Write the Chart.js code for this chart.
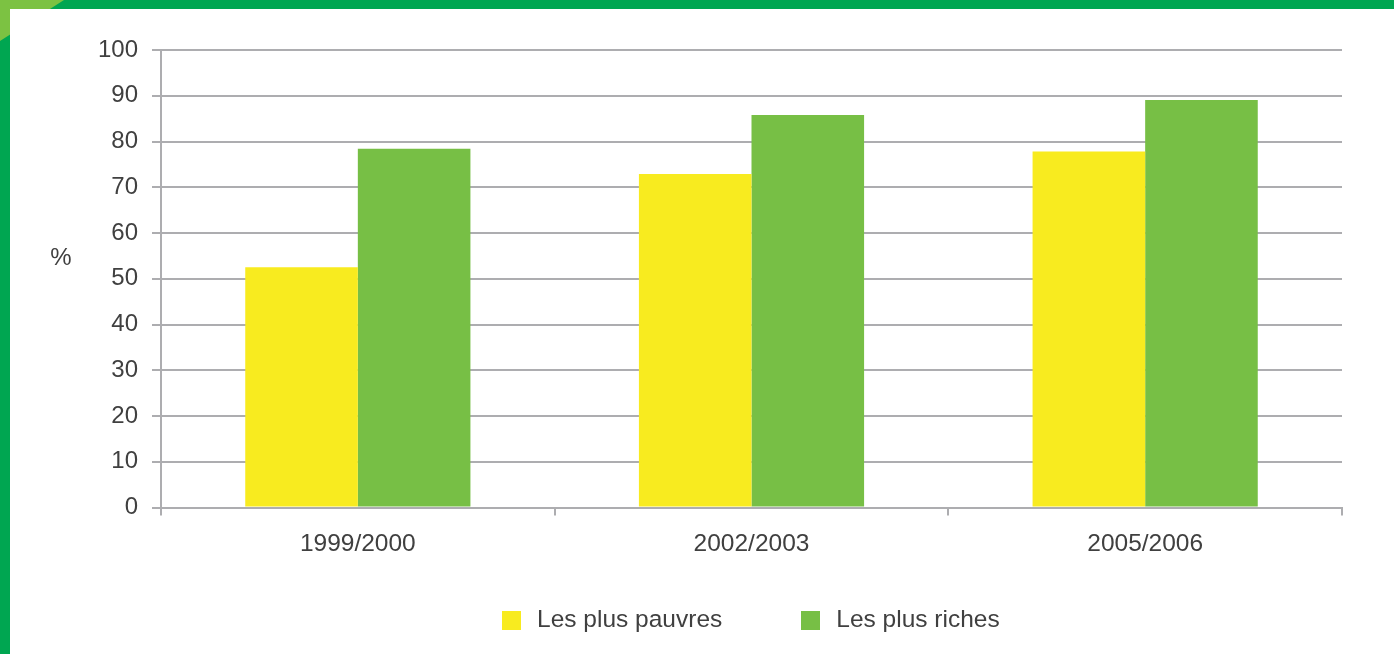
<!DOCTYPE html>
<html>
<head>
<meta charset="utf-8">
<script src="https://cdn.jsdelivr.net/npm/chart.js@4/dist/chart.umd.min.js"></script>
<style>
  html, body { margin: 0; padding: 0; }
  body { width: 1394px; height: 654px; background: #00a651; position: relative; overflow: hidden; }
  #corner { position: absolute; left: 0; top: 0; width: 64px; height: 41px; background: #7cc242;
            clip-path: polygon(0 0, 100% 0, 0 100%); }
  #panel { position: absolute; left: 10px; top: 9px; width: 1384px; height: 645px; background: #ffffff; }
  #c { display: block; }
</style>
</head>
<body>
<div id="corner"></div>
<div id="panel"><canvas id="c" width="1384" height="645"></canvas></div>
<script>
const categories = ['1999/2000', '2002/2003', '2005/2006'];
const poorest = [52.5, 72.9, 77.8];
const richest = [78.4, 85.8, 89.1];
const seriesNames = ['Les plus pauvres', 'Les plus riches'];
const seriesColors = ['#f8eb1f', '#77bf45'];
const yTicks = [0, 10, 20, 30, 40, 50, 60, 70, 80, 90, 100];
const yUnit = '%';

const FONT = 'Liberation Sans, Arial, sans-serif';
const TXT = '#404040';
const GRID = '#adadb0';

// square legend marker
function swatch(color) {
  const cv = document.createElement('canvas');
  cv.width = 19; cv.height = 19;
  const g = cv.getContext('2d');
  g.fillStyle = color;
  g.fillRect(0, 0, 19, 19);
  return cv;
}

const unitLabel = {
  id: 'unitLabel',
  afterDraw(chart) {
    const ctx = chart.ctx, a = chart.chartArea;
    ctx.save();
    ctx.font = '24px ' + FONT;
    ctx.fillStyle = TXT;
    ctx.textAlign = 'center';
    ctx.textBaseline = 'middle';
    ctx.fillText(yUnit, a.left - 100, a.top + 208);
    ctx.restore();
  }
};

// place the legend row under the axis labels (its item spacing uses a wide padding)
const legendPlacer = {
  id: 'legendPlacer',
  afterLayout(chart) {
    const lg = chart.legend;
    if (!lg) return;
    lg.top = chart.chartArea.bottom + 25;
    lg.height = 118;
    lg.bottom = lg.top + lg.height;
    lg.left -= 2.5;
    lg.right -= 2.5;
  }
};

new Chart(document.getElementById('c'), {
  type: 'bar',
  data: {
    labels: categories,
    datasets: [
      { label: seriesNames[0], data: poorest, backgroundColor: seriesColors[0], borderWidth: 0, pointStyle: swatch(seriesColors[0]) },
      { label: seriesNames[1], data: richest, backgroundColor: seriesColors[1], borderWidth: 0, pointStyle: swatch(seriesColors[1]) }
    ]
  },
  options: {
    responsive: false,
    animation: false,
    events: [],
    datasets: { bar: { categoryPercentage: 0.572, barPercentage: 1.0 } },
    layout: { padding: { left: 88, right: 52, top: 41, bottom: 21 } },
    plugins: {
      tooltip: { enabled: false },
      legend: {
        position: 'bottom',
        fullSize: false,
        maxHeight: 60,
        labels: {
          usePointStyle: true, pointStyleWidth: 26.5,
          boxWidth: 19, boxHeight: 19, padding: 75.25,
          color: TXT, font: { family: FONT, size: 24.5 }
        }
      }
    },
    scales: {
      x: {
        grid: { drawOnChartArea: false, drawTicks: true, tickLength: 8, color: GRID, lineWidth: 2 },
        border: { display: true, color: GRID, width: 2 },
        ticks: { color: TXT, font: { family: FONT, size: 24.5 }, padding: 14, maxRotation: 0 }
      },
      y: {
        min: 0, max: 100,
        afterFit(s) { s.width = 63; },
        afterBuildTicks(s) { s.ticks = yTicks.map(v => ({ value: v })); },
        grid: { color: GRID, lineWidth: 2, tickLength: 9, drawTicks: true },
        border: { display: true, color: GRID, width: 2 },
        ticks: { color: TXT, font: { family: FONT, size: 24 }, padding: 14 }
      }
    }
  },
  plugins: [unitLabel, legendPlacer]
});
</script>
</body>
</html>
